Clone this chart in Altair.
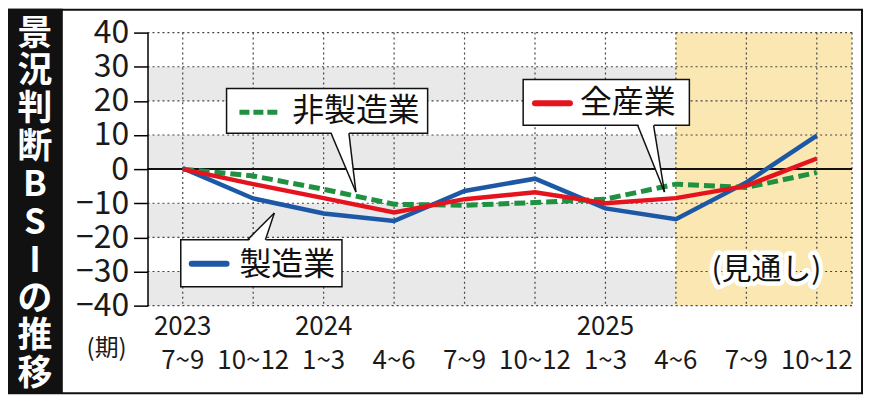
import altair as alt
import pandas as pd

# ---------------- data ----------------
quarters = ["7~9", "10~12", "1~3", "4~6", "7~9", "10~12", "1~3", "4~6", "7~9", "10~12"]
year_labels = ["2023", "2024", "2025"]
year_index = [0, 2, 6]
manufacturing = [0.3, -8.6, -13.0, -15.2, -6.4, -2.8, -11.5, -14.7, -3.9, 9.8]
non_manufacturing = [0.0, -2.0, -5.9, -10.3, -10.6, -9.8, -8.8, -4.4, -5.4, -1.0]
all_industries = [0.0, -4.4, -8.5, -12.7, -8.8, -6.8, -10.0, -8.5, -4.9, 3.1]
y_ticks = [-40, -30, -20, -10, 0, 10, 20, 30, 40]
band_low = [20, 0, -20, -40]
band_high = [30, 10, -10, -30]
forecast_from = 7

# ---------------- styles ----------------
W, H = 707, 274
FONT = "Noto Sans CJK JP"
BLUE = "#1d58a6"
RED = "#e5131d"
GREEN = "#1f9140"
GRAY = "#e9e9e9"
YELLOW = "#fbe7b2"
GRID = "#444444"

xs = alt.Scale(domain=[-0.5, 9.5], nice=False, zero=False)
ys = alt.Scale(domain=[-40, 40], nice=False, zero=False)

yaxis = alt.Axis(values=y_ticks, grid=False, domain=True, domainColor="black",
                 domainWidth=1.5, ticks=True, tickColor="black", tickWidth=1.5,
                 tickSize=14, labelFont=FONT, labelFontSize=32, labelColor="#1a1a1a",
                 labelPadding=5, labelOverlap=False, labelFlush=False, title=None, zindex=1)


def X(f):
    return alt.X(f, scale=xs, axis=None)


def Y(f):
    return alt.Y(f, scale=ys, axis=yaxis)


df = pd.DataFrame({
    "i": list(range(len(quarters))),
    "q": quarters,
    "mfg": manufacturing,
    "non": non_manufacturing,
    "all": all_industries,
})

bands_df = pd.DataFrame({"y0": band_low, "y1": band_high, "x0": -0.5, "x1": 9.5})
bands = alt.Chart(bands_df).mark_rect(color=GRAY).encode(
    x=X("x0:Q"), x2="x1:Q", y=Y("y0:Q"), y2="y1:Q")

fc_df = pd.DataFrame({"x0": [forecast_from], "x1": [9.5], "y0": [-40], "y1": [40]})
forecast = alt.Chart(fc_df).mark_rect(color=YELLOW).encode(
    x=X("x0:Q"), x2="x1:Q", y=Y("y0:Q"), y2="y1:Q")

vgrid = alt.Chart(pd.DataFrame({"i": list(range(len(quarters)))})).mark_rule(
    color=GRID, strokeDash=[2, 3], strokeWidth=1.2).encode(
    x=X("i:Q"), y=alt.value(0), y2=alt.value(H))
rborder = alt.Chart(pd.DataFrame({"a": [0]})).mark_rule(
    color=GRID, strokeDash=[2, 3], strokeWidth=1.2).encode(
    x=alt.value(W), y=alt.value(0), y2=alt.value(H))
hgrid = alt.Chart(pd.DataFrame({"v": y_ticks})).mark_rule(
    color=GRID, strokeDash=[2, 3], strokeWidth=1.2).encode(
    y=Y("v:Q"), x=alt.value(0), x2=alt.value(W))
zero = alt.Chart(pd.DataFrame({"v": [0]})).mark_rule(
    color="#111", strokeWidth=2).encode(y=Y("v:Q"), x=alt.value(0), x2=alt.value(W))

line_mfg = alt.Chart(df).mark_line(color=BLUE, strokeWidth=4.5).encode(x=X("i:Q"), y=Y("mfg:Q"))
line_non = alt.Chart(df).mark_line(color=GREEN, strokeWidth=5, strokeDash=[11, 5]).encode(
    x=X("i:Q"), y=Y("non:Q"))
line_all = alt.Chart(df).mark_line(color=RED, strokeWidth=4.5).encode(x=X("i:Q"), y=Y("all:Q"))

# ---------------- callouts (layout positions in data units) ----------------
boxes = pd.DataFrame({
    "x0": [0.622, 4.832, -0.028],
    "x1": [3.476, 7.191, 2.26],
    "y0": [10.51, 12.85, -34.45],
    "y1": [23.65, 26.28, -20.73],
})
box_layer = alt.Chart(boxes).mark_rect(fill="white", stroke="#111", strokeWidth=1.5).encode(
    x=X("x0:Q"), x2="x1:Q", y=Y("y0:Q"), y2="y1:Q")

tri = pd.DataFrame({
    "g": ["a", "a", "b", "b", "c", "c"],
    "y": [11.2, -6.72, 13.55, -6.72, -21.43, -12.85],
    "xa": [2.105, 2.458, 6.457, 6.838, 0.918, 1.30],
    "xb": [2.359, 2.458, 6.683, 6.838, 1.173, 1.30],
})
tri_fill = alt.Chart(tri).mark_area(orient="horizontal", fill="white").encode(
    y=Y("y:Q"), x=X("xa:Q"), x2="xb:Q", detail="g:N")

sides = pd.DataFrame({
    "x0": [2.105, 2.359, 6.457, 6.683, 0.918, 1.173],
    "y0": [10.51, 10.51, 12.85, 12.85, -20.73, -20.73],
    "x1": [2.458, 2.458, 6.838, 6.838, 1.30, 1.30],
    "y1": [-6.72, -6.72, -6.72, -6.72, -12.85, -12.85],
})
side_layer = alt.Chart(sides).mark_rule(color="#111", strokeWidth=1.5).encode(
    x=X("x0:Q"), y=Y("y0:Q"), x2="x1:Q", y2="y1:Q")

sample_non = alt.Chart(pd.DataFrame({"x0": [0.805], "x1": [1.37], "y": [16.64]})).mark_rule(
    color=GREEN, strokeWidth=5, strokeDash=[10, 4]).encode(x=X("x0:Q"), x2="x1:Q", y=Y("y:Q"))
sample_all = alt.Chart(pd.DataFrame({"x0": [5.0], "x1": [5.496], "y": [19.3]})).mark_rule(
    color=RED, strokeWidth=6, strokeCap="round").encode(x=X("x0:Q"), x2="x1:Q", y=Y("y:Q"))
sample_mfg = alt.Chart(pd.DataFrame({"x0": [0.127], "x1": [0.622], "y": [-27.74]})).mark_rule(
    color=BLUE, strokeWidth=6, strokeCap="round").encode(x=X("x0:Q"), x2="x1:Q", y=Y("y:Q"))

labels = pd.DataFrame({
    "t": ["非製造業", "全産業", "製造業"],
    "x": [1.554, 5.637, 0.805],
    "y": [16.93, 19.35, -28.03],
})
label_layer = alt.Chart(labels).mark_text(font=FONT, fontSize=32, color="#111", align="left",
                                          baseline="middle").encode(
    x=X("x:Q"), y=Y("y:Q"), text="t:N")

fc_label = pd.DataFrame({"t": ["(見通し)"], "x": [8.286], "y": [-29.49]})
fc_halo = alt.Chart(fc_label).mark_text(font=FONT, fontSize=30, color="white", stroke="white",
                                        strokeWidth=9, strokeJoin="round", align="center",
                                        baseline="middle").encode(x=X("x:Q"), y=Y("y:Q"), text="t:N")
fc_text = alt.Chart(fc_label).mark_text(font=FONT, fontSize=30, color="#111", align="center",
                                        baseline="middle").encode(x=X("x:Q"), y=Y("y:Q"), text="t:N")

# ---------------- x labels ----------------
q_layer = alt.Chart(df).mark_text(font=FONT, fontSize=26, color="#1a1a1a", align="center",
                                  baseline="middle").encode(x=X("i:Q"), y=alt.value(330), text="q:N")
ydf = pd.DataFrame({"i": year_index, "t": year_labels})
yr_layer = alt.Chart(ydf).mark_text(font=FONT, fontSize=26, color="#1a1a1a", align="center",
                                    baseline="middle").encode(x=X("i:Q"), y=alt.value(295), text="t:N")
period = alt.Chart(pd.DataFrame({"t": ["(期)"]})).mark_text(
    font=FONT, fontSize=24, color="#1a1a1a", align="center", baseline="middle").encode(
    x=alt.value(-41), y=alt.value(318), text="t:N")

# ---------------- title strip & frame ----------------
one = pd.DataFrame({"a": [0]})
strip = alt.Chart(one).mark_rect(color="#111").encode(
    x=alt.value(-140), x2=alt.value(-85), y=alt.value(-24), y2=alt.value(362))
title = alt.Chart(one).mark_text(font=FONT, fontSize=35, fontWeight="bold", color="white",
                                 align="center", baseline="top", lineHeight=38).encode(
    x=alt.value(-113), y=alt.value(-16), text=alt.value(list("景況判断BSIの推移")))
frame = alt.Chart(one).mark_rect(fillOpacity=0, stroke="#111", strokeWidth=2).encode(
    x=alt.value(-139), x2=alt.value(717), y=alt.value(-23), y2=alt.value(362))

chart = alt.layer(
    bands, forecast, vgrid, rborder, hgrid, zero,
    line_mfg, line_non, line_all,
    box_layer, tri_fill, side_layer,
    sample_non, sample_all, sample_mfg, label_layer,
    fc_halo, fc_text,
    q_layer, yr_layer, period,
    strip, title, frame,
).properties(
    width=W, height=H,
    padding={"left": 140, "top": 24, "right": 12, "bottom": 90},
    autosize=alt.AutoSizeParams(type="none"),
    background="white",
).configure_view(strokeWidth=0)

chart.save("out.html", embed_options={"renderer": "svg", "actions": False})
